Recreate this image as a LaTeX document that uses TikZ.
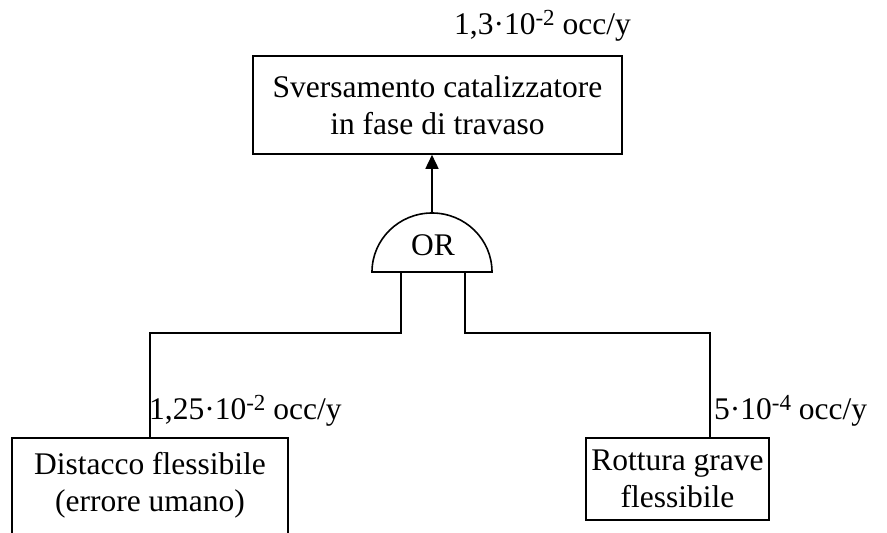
\documentclass[tikz,border=0pt]{standalone}
\usepackage{fontspec}
\setmainfont{Liberation Serif}
\usetikzlibrary{arrows.meta}
\newcommand{\supx}[1]{\raisebox{9pt}{\fontsize{23}{23}\selectfont #1}}
\begin{document}
\begin{tikzpicture}[x=1pt,y=1pt,
  every node/.style={font=\fontsize{31.5}{37}\selectfont},
  evbox/.style={draw,line width=1.6pt,align=center,inner sep=0pt},
  lbl/.style={inner sep=0pt},
  conn/.style={line width=1.6pt}]
\useasboundingbox (0,0) rectangle (887,533);
\clip (0,0) rectangle (887,533);
% top event
\node[evbox,minimum width=369,minimum height=98] (top) at (437.5,428) {Sversamento catalizzatore\\in fase di travaso};
\node[lbl,anchor=base west] (ltop) at (454,498) {1,3·10\supx{-2} occ/y};
% OR gate
\coordinate (gc) at (432,261);
\draw[line width=1.6pt] (372,261) arc[start angle=180,end angle=0,x radius=60,y radius=59] -- cycle;
\node (or) at (433,288) {OR};
\coordinate (gtop) at (432,320);
\draw[conn,-{Triangle[width=13pt,length=14pt]}] (gtop) -- (top.south -| gtop);
% left input
\node[evbox,minimum width=276,minimum height=130,anchor=north] (dbox) at (150,96) {};
\node[align=center,inner sep=0pt] (dtxt) at (150,48) {Distacco flessibile\\(errore umano)};
\node[lbl,anchor=base west] (ld) at (149,113) {1,25·10\supx{-2} occ/y};
\coordinate (gl) at (401,261);
\draw[conn] (gl) -- (401,200) -- (150,200) -- (dbox.north);
% right input
\node[evbox,minimum width=183,minimum height=82] (rbox) at (677.5,54) {Rottura grave\\flessibile};
\node[lbl,anchor=base west] (lr) at (714,113) {5·10\supx{-4} occ/y};
\coordinate (gr) at (465,261);
\coordinate (rin) at (710,95);
\draw[conn] (gr) -- (465,200) -- (710,200) -- (rin);
\end{tikzpicture}
\end{document}
